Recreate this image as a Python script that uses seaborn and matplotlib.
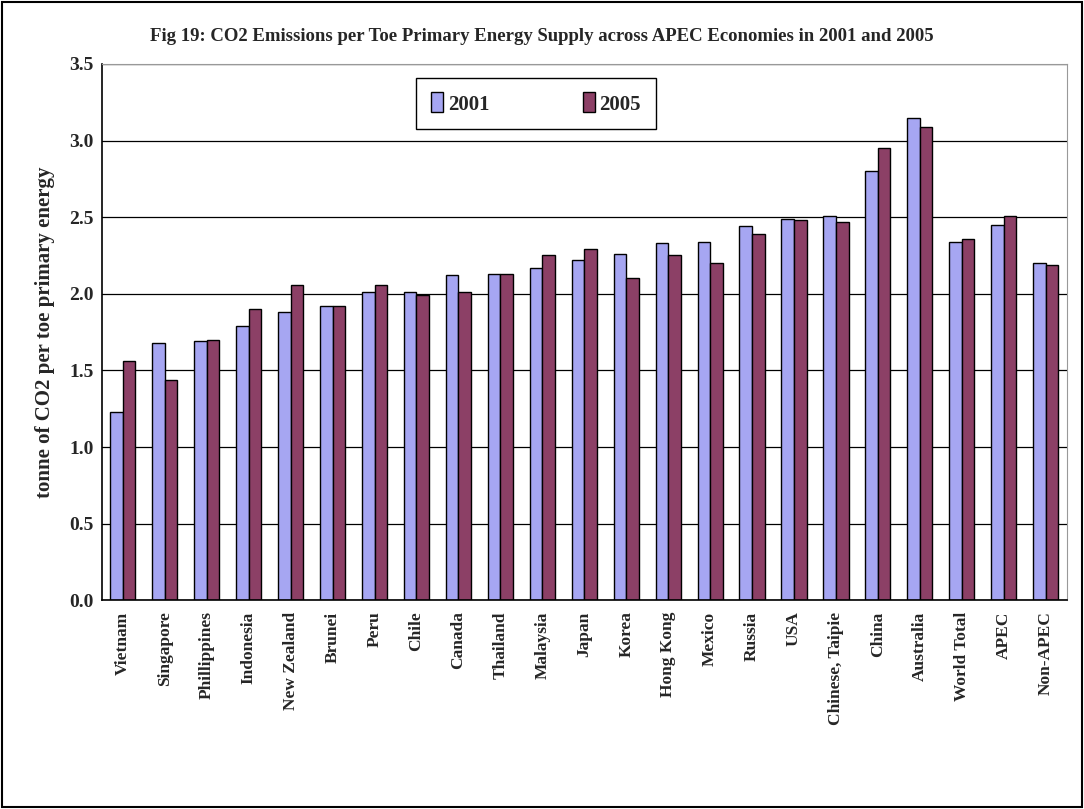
import pandas as pd
import matplotlib.pyplot as plt
import seaborn as sns
import numpy as np
from matplotlib.patches import Rectangle

economies = ["Vietnam", "Singapore", "Phillippines", "Indonesia", "New Zealand", "Brunei",
             "Peru", "Chile", "Canada", "Thailand", "Malaysia", "Japan", "Korea", "Hong Kong",
             "Mexico", "Russia", "USA", "Chinese, Taipie", "China", "Australia", "World Total",
             "APEC", "Non-APEC"]
co2_2001 = [1.23, 1.68, 1.69, 1.79, 1.88, 1.92, 2.01, 2.01, 2.12, 2.13, 2.17, 2.22, 2.26,
            2.33, 2.34, 2.44, 2.49, 2.51, 2.80, 3.15, 2.34, 2.45, 2.20]
co2_2005 = [1.56, 1.44, 1.70, 1.90, 2.06, 1.92, 2.06, 1.99, 2.01, 2.13, 2.25, 2.29, 2.10,
            2.25, 2.20, 2.39, 2.48, 2.47, 2.95, 3.09, 2.36, 2.51, 2.19]
years = ["2001", "2005"]
yticks = [0.0, 0.5, 1.0, 1.5, 2.0, 2.5, 3.0, 3.5]

df = pd.DataFrame({"economy": economies * 2,
                   "value": co2_2001 + co2_2005,
                   "year": [years[0]] * len(economies) + [years[1]] * len(economies)})

sns.set_style("white")
plt.rcParams['font.family'] = ['Liberation Serif', 'DejaVu Serif']
plt.rcParams['font.weight'] = 'bold'

fig = plt.figure(figsize=(10.84, 8.09), dpi=100)
ax = fig.add_axes([0.094, 0.258, 0.890, 0.663])

sns.barplot(data=df, x="economy", y="value", hue="year", order=economies,
            palette={"2001": "#9999FF", "2005": "#993366"}, edgecolor="black",
            linewidth=1, width=0.6, ax=ax)

ax.set_ylim(0, 3.5)
ax.set_xlim(-0.5, len(economies) - 0.5)
ax.set_yticks(yticks)
ax.set_yticklabels([f"{t:.1f}" for t in yticks], fontsize=14, fontweight='bold')
ax.yaxis.grid(True, color="black", linewidth=0.9)
ax.set_axisbelow(True)
ax.tick_params(axis='x', labelrotation=90, labelsize=12.5, length=0, pad=8)
ax.tick_params(axis='y', length=0, pad=6)
for lbl in ax.get_xticklabels():
    lbl.set_fontweight('bold')
ax.set_xlabel("")
ax.set_ylabel("tonne of CO2 per toe primary energy", fontsize=15, fontweight='bold', labelpad=10)

for side in ["top", "right"]:
    ax.spines[side].set_color("#999999")
for side in ["left", "bottom"]:
    ax.spines[side].set_color("black")
    ax.spines[side].set_linewidth(1.2)

ax.legend(loc="upper left", bbox_to_anchor=(0.326, 0.974), ncol=2, frameon=True,
          fancybox=False, edgecolor="black", framealpha=1, prop={'size': 15, 'weight': 'bold'},
          handlelength=0.6, handleheight=1.1, handletextpad=0.2, columnspacing=4.5,
          borderpad=0.7, borderaxespad=0)

fig.suptitle("Fig 19: CO2 Emissions per Toe Primary Energy Supply across APEC Economies in 2001 and 2005",
             fontsize=13.5, fontweight='bold', y=0.965)

fig.patches.append(Rectangle((0.002, 0.002), 0.996, 0.996, transform=fig.transFigure,
                             fill=False, edgecolor="black", linewidth=1.5))

fig.savefig("out.png", dpi=100)
